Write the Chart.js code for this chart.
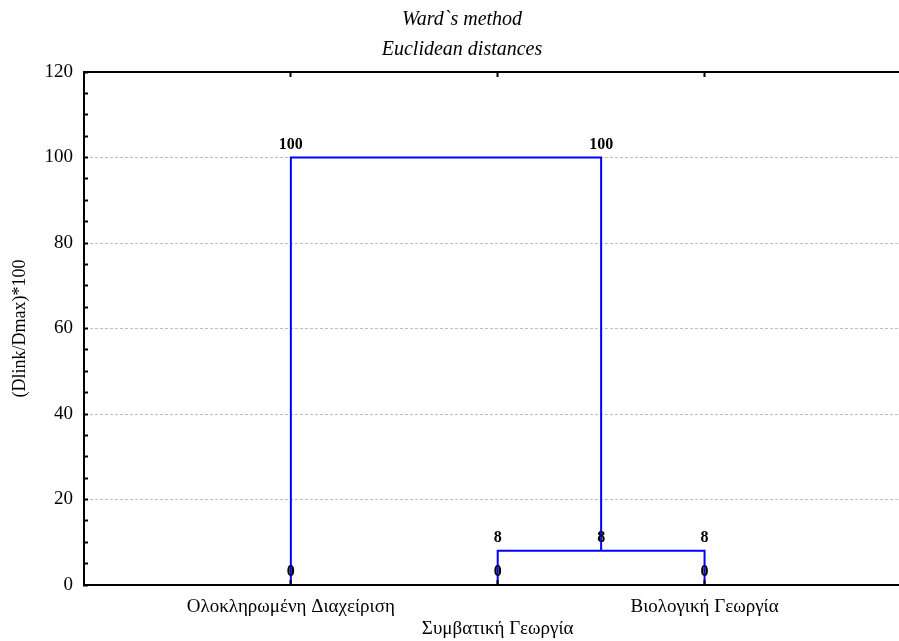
<!DOCTYPE html>
<html>
<head>
<meta charset="utf-8">
<script src="https://cdn.jsdelivr.net/npm/chart.js@4.4.1/dist/chart.umd.min.js"></script>
<style>
  html, body { margin: 0; padding: 0; background: #fff; overflow: hidden; }
  canvas { display: block; }
</style>
</head>
<body>
<canvas id="tree" width="899" height="641"></canvas>
<script>
// Chart text
const titleLines = ['Ward`s method', 'Euclidean distances'];
const yAxisTitle = '(Dlink/Dmax)*100';

// Leaves of the tree, in display order (position 1, 2, 3 on the x axis)
const categories = ['Ολοκληρωμένη Διαχείριση', 'Συμβατική Γεωργία', 'Βιολογική Γεωργία'];
const leafPositions = [1, 2, 3];

// Agglomeration schedule: each step joins member A with member B at a
// linkage distance. A member is a leaf index or 's<k>' for an earlier step.
const mergeA = [1, 0];
const mergeB = [2, 's0'];
const mergeHeight = [8, 100];

// Y axis range and tick spacing
const yMin = 0;
const yMax = 120;
const yMinorStep = 5;
const yLabelStep = 20;

const FONT = '"Liberation Serif", "Times New Roman", serif';

// Build the bracket (U-shape) of every merge step
const steps = [];
function member(m) {
  if (typeof m === 'number') return { x: leafPositions[m], h: 0 };
  return steps[Number(m.slice(1))];
}
mergeA.forEach((a, k) => {
  const A = member(a);
  const B = member(mergeB[k]);
  const h = mergeHeight[k];
  steps.push({
    x: (A.x + B.x) / 2,
    h: h,
    path: [
      { x: A.x, y: A.h },
      { x: A.x, y: h },
      { x: B.x, y: h },
      { x: B.x, y: B.h }
    ]
  });
});

const datasets = steps.map(s => ({
  data: s.path,
  borderColor: '#0000ff',
  borderWidth: 2,
  pointRadius: 0,
  fill: false,
  tension: 0
}));

// Two-line italic heading above the plot
const headingPlugin = {
  id: 'heading',
  afterDraw(chart) {
    const ctx = chart.ctx;
    ctx.save();
    ctx.font = 'italic 20px ' + FONT;
    ctx.fillStyle = '#000';
    ctx.textAlign = 'center';
    ctx.textBaseline = 'alphabetic';
    titleLines.forEach((t, i) => ctx.fillText(t, 462, 25 + i * 30));
    ctx.restore();
  }
};

// Linkage value written above every vertex of the brackets
const vertexLabelPlugin = {
  id: 'vertexLabels',
  afterDatasetsDraw(chart) {
    const ctx = chart.ctx;
    ctx.save();
    ctx.font = 'bold 16px ' + FONT;
    ctx.fillStyle = '#000';
    ctx.textAlign = 'center';
    ctx.textBaseline = 'middle';
    chart.data.datasets.forEach((ds, i) => {
      chart.getDatasetMeta(i).data.forEach((pt, j) => {
        ctx.fillText(String(ds.data[j].y), pt.x, pt.y - 13);
      });
    });
    ctx.restore();
  }
};

const leafTicks = scale => { scale.ticks = leafPositions.map(v => ({ value: v })); };

new Chart(document.getElementById('tree'), {
  type: 'line',
  data: { datasets },
  options: {
    responsive: false,
    animation: false,
    devicePixelRatio: 1,
    layout: { padding: { top: 72, left: 0, right: 0, bottom: 0 } },
    plugins: {
      legend: { display: false },
      tooltip: { enabled: false }
    },
    scales: {
      x: {
        type: 'linear',
        position: 'bottom',
        min: 0,
        max: 3.94,
        afterBuildTicks: leafTicks,
        afterFit: s => { s.height = 56; },
        ticks: {
          autoSkip: false,
          maxRotation: 0,
          minRotation: 0,
          padding: 16,
          color: '#000',
          font: { family: FONT, size: 19, lineHeight: 1.15 },
          callback: (v) => {
            const i = leafPositions.indexOf(v);
            return i === 1 ? ['', categories[i]] : categories[i];
          }
        },
        grid: { drawOnChartArea: false, tickLength: -5, tickColor: '#000', tickWidth: 2, z: 1 },
        border: { color: '#000', width: 2, z: 1 }
      },
      x2: {
        type: 'linear',
        position: 'top',
        min: 0,
        max: 3.94,
        afterBuildTicks: leafTicks,
        afterFit: s => { s.height = 0; },
        ticks: { display: false },
        grid: { drawOnChartArea: false, tickLength: -5, tickColor: '#000', tickWidth: 2 },
        border: { color: '#000', width: 2 }
      },
      y: {
        min: yMin,
        max: yMax,
        afterFit: s => { s.width = 84; },
        ticks: {
          stepSize: yMinorStep,
          autoSkip: false,
          padding: 15,
          color: '#000',
          font: { family: FONT, size: 19 },
          callback: v => (v % yLabelStep === 0 ? String(v) : '')
        },
        grid: {
          color: ctx => {
            const v = ctx.tick ? ctx.tick.value : 0;
            return (v % yLabelStep === 0 && v !== yMin && v !== yMax) ? '#bdbdbd' : 'rgba(0,0,0,0)';
          },
          lineWidth: 1,
          tickLength: -4,
          tickColor: '#000',
          tickWidth: 2
        },
        border: { color: '#000', width: 2, dash: [3, 2] },
        title: {
          display: true,
          text: yAxisTitle,
          color: '#000',
          font: { family: FONT, size: 18 },
          padding: { top: 9, bottom: 0 }
        }
      }
    }
  },
  plugins: [headingPlugin, vertexLabelPlugin]
});
</script>
</body>
</html>
